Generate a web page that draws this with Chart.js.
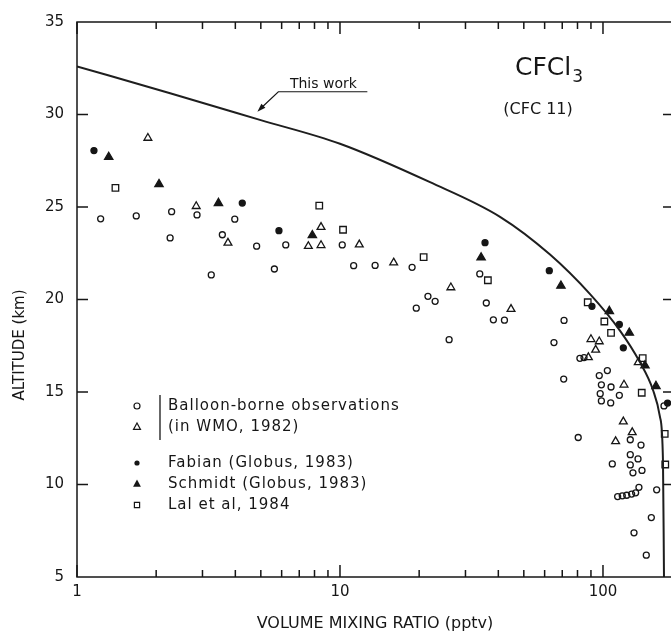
<!DOCTYPE html>
<html>
<head>
<meta charset="utf-8">
<script src="https://cdn.jsdelivr.net/npm/chart.js@4.4.1/dist/chart.umd.min.js"></script>
<style>
  html, body { margin: 0; padding: 0; overflow: hidden; background: #fff; }
  #wrap { width: 684px; height: 637px; }
</style>
</head>
<body>
<div id="wrap"><canvas id="chart-cfc"></canvas></div>
<script>
// "This work" model profile
var curveX = [1, 2.26, 4.96, 10, 22, 40.6, 62.9, 89.3, 116, 138.3, 154.9, 164.7, 169.1, 170.6];
var curveY = [32.6, 31.15, 29.71, 28.42, 26.34, 24.47, 22.43, 20.29, 18.32, 16.6, 15.11, 13.66, 11.26, 5.0];

// Balloon-borne observations (WMO, 1982) - circles
var balloonCircX = [1.23, 1.68, 2.29, 2.26, 2.86, 3.98, 3.57, 4.82, 6.22, 5.63, 3.24, 10.2, 11.27, 13.6, 18.8, 19.5, 21.6, 23.0, 26.0, 34.0, 36.0, 38.3, 42.2, 71.1, 65.1, 70.9, 81.7, 84.7, 103.9, 96.8, 98.6, 107.3, 97.6, 98.6, 107, 115.4, 127, 80.5, 139.5, 127, 135.9, 108.5, 127, 130, 140.7, 113.7, 118.4, 123.1, 128.5, 133.1, 137, 160, 152.7, 131.2, 146.1, 170.6];
var balloonCircY = [24.36, 24.52, 24.75, 23.33, 24.57, 24.34, 23.5, 22.88, 22.95, 21.65, 21.33, 22.95, 21.83, 21.84, 21.74, 19.53, 20.17, 19.9, 17.83, 21.38, 19.81, 18.9, 18.88, 18.87, 17.67, 15.7, 16.82, 16.86, 16.16, 15.89, 15.39, 15.27, 14.91, 14.52, 14.41, 14.82, 12.42, 12.54, 12.13, 11.61, 11.38, 11.11, 11.06, 10.63, 10.76, 9.35, 9.39, 9.42, 9.48, 9.55, 9.85, 9.71, 8.21, 7.39, 6.18, 14.25];

// Balloon-borne observations (WMO, 1982) - triangles
var balloonTriX = [1.86, 2.84, 3.75, 8.47, 7.58, 8.47, 11.84, 16.0, 26.4, 44.7, 90.0, 96.8, 93.8, 88.0, 136.2, 120.2, 119.5, 129.2, 111.7];
var balloonTriY = [28.73, 25.04, 23.06, 23.91, 22.88, 22.93, 22.97, 21.99, 20.65, 19.48, 17.85, 17.73, 17.28, 16.87, 16.6, 15.39, 13.4, 12.82, 12.33];

// Fabian (Globus, 1983)
var fabianX = [1.16, 4.25, 5.86, 35.6, 62.5, 90.8, 115.4, 119.5, 176];
var fabianY = [28.05, 25.21, 23.72, 23.07, 21.56, 19.63, 18.65, 17.39, 14.4];

// Schmidt (Globus, 1983)
var schmidtX = [1.32, 2.05, 3.45, 7.85, 34.4, 69.2, 105.7, 125.9, 144.4, 159];
var schmidtY = [27.7, 26.23, 25.21, 23.47, 22.27, 20.74, 19.37, 18.2, 16.43, 15.32];

// Lal et al, 1984
var lalX = [1.4, 8.34, 10.27, 20.8, 36.5, 87.5, 101.2, 107.3, 141.6, 140.4, 171.7, 172.5];
var lalY = [26.03, 25.07, 23.77, 22.29, 21.04, 19.85, 18.81, 18.2, 16.83, 14.96, 12.74, 11.08];

var xTickLabels = [1, 10, 100];
var yTickLabels = [5, 10, 15, 20, 25, 30, 35];
var legendLabels = ["Balloon-borne observations", "(in WMO, 1982)", "Fabian (Globus, 1983)", "Schmidt (Globus, 1983)", "Lal et al, 1984"];

var ink = "#161616";
var fontFamily = "'DejaVu Sans', sans-serif";

function pairs(xs, ys) {
    return xs.map(function (x, i) { return { x: x, y: ys[i] }; });
}

function symbol(ctx, style, x, y, r, filled) {
    ctx.beginPath();
    if (style === "circle") {
        ctx.arc(x, y, r, 0, Math.PI * 2);
    } else if (style === "triangle") {
        ctx.moveTo(x, y - r);
        ctx.lineTo(x + r * 0.87, y + r * 0.6);
        ctx.lineTo(x - r * 0.87, y + r * 0.6);
        ctx.closePath();
    } else {
        ctx.rect(x - r, y - r, 2 * r, 2 * r);
    }
    if (filled) { ctx.fill(); } else { ctx.stroke(); }
}

// frame, inward ticks, legend and labels
var decorPlugin = {
    id: "decor",
    afterDatasetsDraw: function (chart) {
        var ctx = chart.ctx, a = chart.chartArea;
        var xs = chart.scales.x, ys = chart.scales.y;
        ctx.save();
        ctx.strokeStyle = ink;
        ctx.fillStyle = ink;
        ctx.lineWidth = 1.5;
        ctx.strokeRect(a.left, a.top, a.right - a.left, a.bottom - a.top);

        ctx.beginPath();
        for (var d = 1; d <= 100; d *= 10) {
            for (var m = 1; m < 10; m++) {
                var v = d * m;
                if (v > xs.max) break;
                var px = xs.getPixelForValue(v);
                var len = m === 1 ? 12 : 7;
                ctx.moveTo(px, a.bottom); ctx.lineTo(px, a.bottom - len);
                ctx.moveTo(px, a.top); ctx.lineTo(px, a.top + len);
            }
        }
        yTickLabels.slice(1, -1).forEach(function (v) {
            var py = ys.getPixelForValue(v);
            ctx.moveTo(a.left, py); ctx.lineTo(a.left + 11, py);
            ctx.moveTo(a.right, py); ctx.lineTo(a.right - 10, py);
        });
        ctx.stroke();

        // y axis title
        ctx.font = "15px " + fontFamily;
        ctx.textAlign = "center";
        ctx.textBaseline = "middle";
        ctx.save();
        ctx.translate(20, 345);
        ctx.rotate(-Math.PI / 2);
        ctx.fillText("ALTITUDE (km)", 0, 0);
        ctx.restore();

        // "This work" pointer
        var tipX = xs.getPixelForValue(4.85), tipY = ys.getPixelForValue(30.15);
        var elbowX = tipX + 21, elbowY = tipY - 20;
        ctx.lineWidth = 1.2;
        ctx.beginPath();
        ctx.moveTo(tipX + 3, tipY - 3);
        ctx.lineTo(elbowX, elbowY);
        ctx.lineTo(elbowX + 89, elbowY);
        ctx.stroke();
        ctx.beginPath();
        ctx.moveTo(tipX, tipY);
        ctx.lineTo(tipX + 8, tipY - 4);
        ctx.lineTo(tipX + 4, tipY - 8);
        ctx.closePath();
        ctx.fill();
        ctx.font = "14px " + fontFamily;
        ctx.textBaseline = "alphabetic";
        ctx.fillText("This work", elbowX + 45, elbowY - 4);

        // species label
        ctx.textAlign = "left";
        ctx.font = "25px " + fontFamily;
        ctx.fillText("CFCl", 515, 75);
        var w = ctx.measureText("CFCl").width;
        ctx.font = "17px " + fontFamily;
        ctx.fillText("3", 515 + w + 1, 82);
        ctx.textAlign = "center";
        ctx.font = "16px " + fontFamily;
        ctx.fillText("(CFC 11)", 538, 114);

        // legend
        var rowsY = [406, 427, 463, 484, 505];
        var styles = [["circle", 3, false], ["triangle", 4, false], ["circle", 2.6, true], ["triangle", 4.5, true], ["rect", 2.6, false]];
        ctx.lineWidth = 1.2;
        rowsY.forEach(function (y, i) {
            symbol(ctx, styles[i][0], 137, y, styles[i][1], styles[i][2]);
        });
        ctx.lineWidth = 1.3;
        ctx.beginPath();
        ctx.moveTo(160, 395); ctx.lineTo(160, 440);
        ctx.stroke();
        ctx.font = "15px " + fontFamily;
        ctx.textAlign = "left";
        ctx.textBaseline = "middle";
        ctx.letterSpacing = "1px";
        legendLabels.forEach(function (t, i) {
            ctx.fillText(t, 168, rowsY[i]);
        });
        ctx.restore();
    }
};

var ctx = document.getElementById("chart-cfc").getContext("2d");

var markerBase = {
    type: "scatter",
    borderColor: ink,
    borderWidth: 1.3,
    pointHoverRadius: 4
};

new Chart(ctx, {
    data: {
        datasets: [{
            type: "line",
            label: "This work",
            data: pairs(curveX, curveY),
            borderColor: "#1e1e1e",
            borderWidth: 2,
            pointRadius: 0,
            cubicInterpolationMode: "monotone",
            fill: false
        },
        Object.assign({}, markerBase, {
            label: "Balloon-borne (circles)",
            data: pairs(balloonCircX, balloonCircY),
            pointStyle: "circle",
            pointRadius: 3,
            backgroundColor: "rgba(255,255,255,0)"
        }),
        Object.assign({}, markerBase, {
            label: "Balloon-borne (triangles)",
            data: pairs(balloonTriX, balloonTriY),
            pointStyle: "triangle",
            pointRadius: 4.5,
            backgroundColor: "rgba(255,255,255,0)"
        }),
        Object.assign({}, markerBase, {
            label: "Fabian (Globus, 1983)",
            data: pairs(fabianX, fabianY),
            pointStyle: "circle",
            pointRadius: 3,
            backgroundColor: ink
        }),
        Object.assign({}, markerBase, {
            label: "Schmidt (Globus, 1983)",
            data: pairs(schmidtX, schmidtY),
            pointStyle: "triangle",
            pointRadius: 4.8,
            backgroundColor: ink
        }),
        Object.assign({}, markerBase, {
            label: "Lal et al, 1984",
            data: pairs(lalX, lalY),
            pointStyle: "rect",
            pointRadius: 4.6,
            backgroundColor: "rgba(255,255,255,0)"
        })]
    },
    options: {
        responsive: true,
        maintainAspectRatio: false,
        animation: false,
        layout: {
            padding: { top: 16, right: 11, left: 0, bottom: 0 }
        },
        plugins: {
            legend: { display: false },
            tooltip: { enabled: false }
        },
        scales: {
            x: {
                type: "logarithmic",
                min: 1,
                max: 184.6,
                grid: { display: false, drawTicks: false },
                border: { display: false },
                afterBuildTicks: function (scale) {
                    scale.ticks = xTickLabels.map(function (v) { return { value: v }; });
                },
                afterFit: function (scale) { scale.height = 60; },
                ticks: {
                    autoSkip: false,
                    maxRotation: 0,
                    padding: 6,
                    color: ink,
                    font: { size: 15, family: fontFamily },
                    callback: function (value) { return String(value); }
                },
                title: {
                    display: true,
                    text: "VOLUME MIXING RATIO (pptv)",
                    color: ink,
                    font: { size: 16, family: fontFamily },
                    padding: { top: 0, bottom: 4 }
                }
            },
            y: {
                type: "linear",
                min: 5,
                max: 35,
                grid: { display: false, drawTicks: false },
                border: { display: false },
                afterBuildTicks: function (scale) {
                    scale.ticks = yTickLabels.map(function (v) { return { value: v }; });
                },
                afterFit: function (scale) { scale.width = 77; },
                ticks: {
                    padding: 13,
                    color: ink,
                    font: { size: 15, family: fontFamily }
                }
            }
        }
    },
    plugins: [decorPlugin]
});
</script>
</body>
</html>
